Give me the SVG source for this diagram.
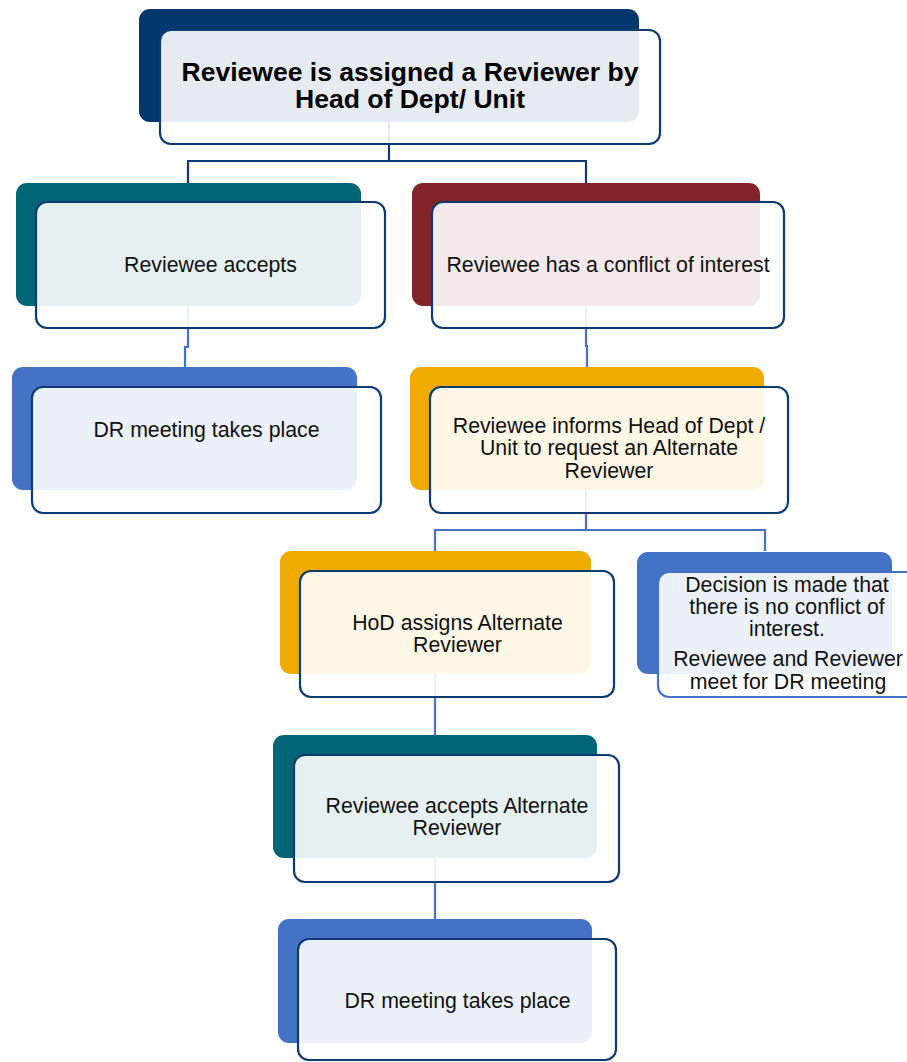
<svg xmlns="http://www.w3.org/2000/svg" width="907" height="1062" viewBox="0 0 907 1062">
  <style>
    .conn { fill: none; stroke-width: 2.2; }
    .navyc { stroke: #0B3B72; }
    .bluec { stroke: #4472C4; }
    .back { stroke: none; }
    .front { fill: #FFFFFF; fill-opacity: 0.9; stroke: #0B3B72; stroke-width: 2.2; }
    .front.bl { stroke: #4472C4; }
    .t { font-family: "Liberation Sans", Arial, sans-serif; font-size: 21.3px; fill: #111111; text-anchor: middle; }
    .tb { font-family: "Liberation Sans", Arial, sans-serif; font-size: 25px; font-weight: bold; fill: #000000; text-anchor: middle; }
  </style>
  <rect width="907" height="1062" fill="#FFFFFF"/>
  <g id="connectors">
    <path class="conn navyc" d="M389 122 V161 M188 161 H586 M188 160 V183 M586 160 V183"/>
    <path class="conn bluec" d="M188 306 V347 H185 V367"/>
    <path class="conn bluec" d="M586 306 V346 H587 V367"/>
    <path class="conn bluec" d="M586 490 V530 M435 530 H765 M435 529 V551 M765 529 V551"/>
    <path class="conn bluec" d="M435 674 V735"/>
    <path class="conn bluec" d="M435 858 V919"/>
  </g>
  <g id="n-top">
    <rect class="back" x="139" y="9" width="500" height="113" rx="11" fill="#03376E"/>
    <rect class="front" x="160" y="30" width="500" height="114" rx="11"/>
    <text class="tb" x="410" y="81" textLength="457" lengthAdjust="spacingAndGlyphs">Reviewee is assigned a Reviewer by</text>
    <text class="tb" x="410" y="108" textLength="230" lengthAdjust="spacingAndGlyphs">Head of Dept/ Unit</text>
  </g>
  <g id="n-accepts">
    <rect class="back" x="16" y="183" width="345" height="123" rx="11" fill="#006677"/>
    <rect class="front" x="36" y="202" width="349" height="126" rx="11"/>
    <text class="t" x="210.5" y="272">Reviewee accepts</text>
  </g>
  <g id="n-conflict">
    <rect class="back" x="412" y="183" width="348" height="123" rx="11" fill="#832428"/>
    <rect class="front" x="432" y="202" width="352" height="126" rx="11"/>
    <text class="t" x="608" y="272">Reviewee has a conflict of interest</text>
  </g>
  <g id="n-dr1">
    <rect class="back" x="12" y="367" width="345" height="123" rx="11" fill="#4472C4"/>
    <rect class="front" x="32" y="387" width="349" height="126" rx="11"/>
    <text class="t" x="206.5" y="437">DR meeting takes place</text>
  </g>
  <g id="n-informs">
    <rect class="back" x="410" y="367" width="354" height="123" rx="11" fill="#EFAB00"/>
    <rect class="front" x="430" y="387" width="358" height="126" rx="11"/>
    <text class="t" x="609" y="433">Reviewee informs Head of Dept /</text>
    <text class="t" x="609" y="455">Unit to request an Alternate</text>
    <text class="t" x="609" y="478">Reviewer</text>
  </g>
  <g id="n-hod">
    <rect class="back" x="280" y="551" width="311" height="123" rx="11" fill="#EFAB00"/>
    <rect class="front" x="300" y="571" width="314" height="126" rx="11"/>
    <text class="t" x="457.5" y="630">HoD assigns Alternate</text>
    <text class="t" x="457.5" y="652">Reviewer</text>
  </g>
  <g id="n-decision">
    <rect class="back" x="637" y="552" width="255" height="122" rx="11" fill="#4472C4"/>
    <rect class="front bl" x="658" y="572" width="260" height="125" rx="11"/>
    <text class="t" x="787" y="592">Decision is made that</text>
    <text class="t" x="787" y="614">there is no conflict of</text>
    <text class="t" x="787" y="636">interest.</text>
    <text class="t" x="788" y="666">Reviewee and Reviewer</text>
    <text class="t" x="788" y="689">meet for DR meeting</text>
  </g>
  <g id="n-accepts-alt">
    <rect class="back" x="273" y="735" width="324" height="123" rx="11" fill="#006677"/>
    <rect class="front" x="294" y="755" width="325" height="127" rx="11"/>
    <text class="t" x="457" y="813">Reviewee accepts Alternate</text>
    <text class="t" x="457" y="835">Reviewer</text>
  </g>
  <g id="n-dr2">
    <rect class="back" x="278" y="919" width="314" height="124" rx="11" fill="#4472C4"/>
    <rect class="front" x="298" y="939" width="318" height="121" rx="11"/>
    <text class="t" x="457.5" y="1008">DR meeting takes place</text>
  </g>
</svg>
